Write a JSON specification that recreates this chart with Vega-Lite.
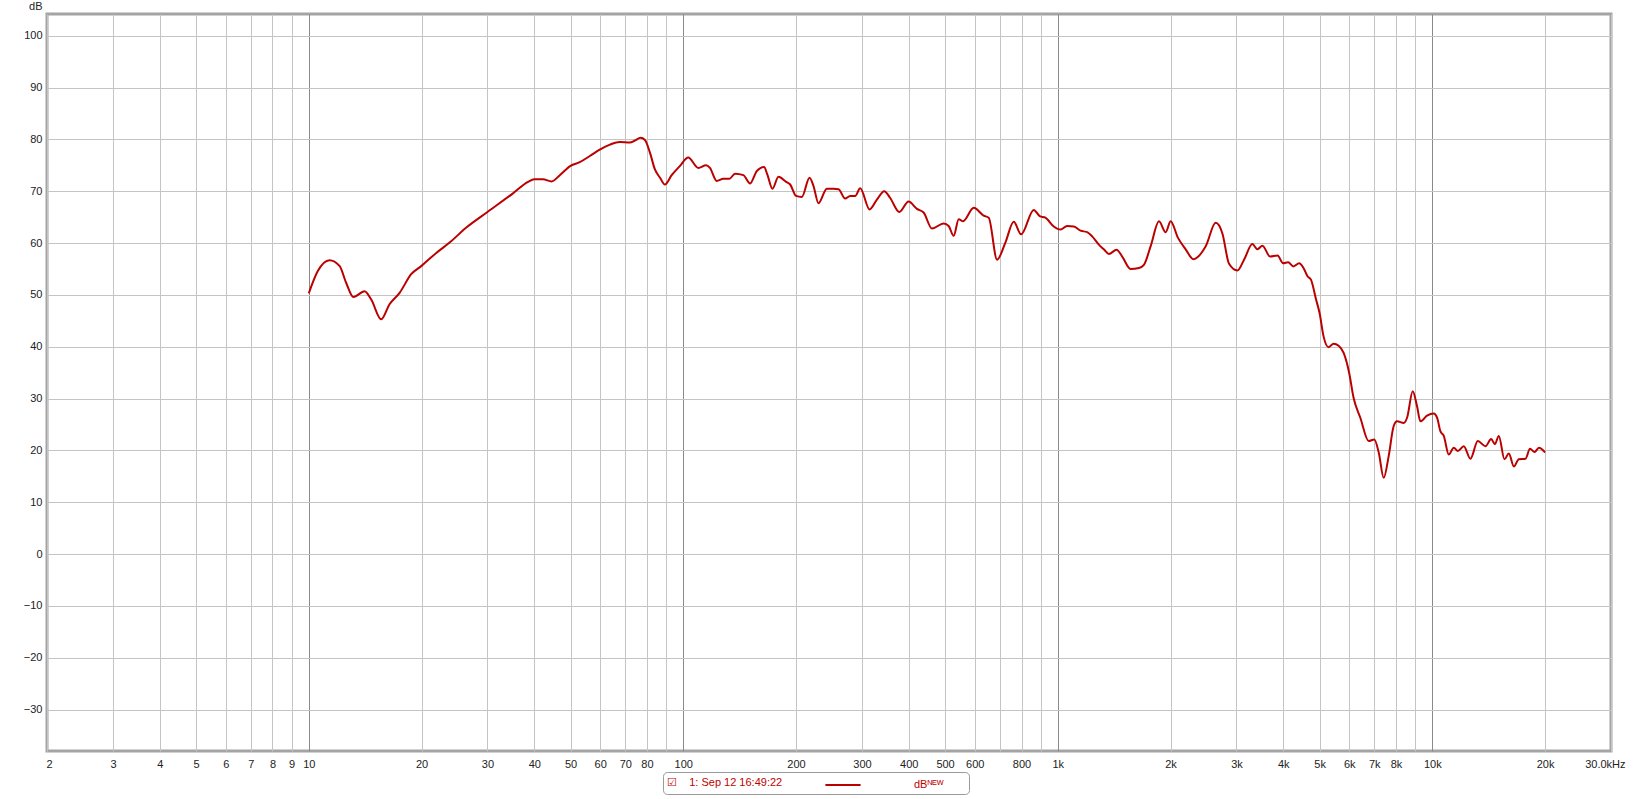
{
  "$schema": "https://vega.github.io/schema/vega-lite/v6.json",
  "width": 1564,
  "height": 737,
  "autosize": {"type": "none"},
  "padding": {"left": 47, "top": 14, "right": 22, "bottom": 48},
  "background": "white",
  "config": {
    "font": "Liberation Sans",
    "view": {"stroke": "#a4a4a4", "strokeWidth": 3},
    "axis": {"labelFont": "Liberation Sans", "labelFontSize": 11, "labelColor": "#222222", "titleFont": "Liberation Sans"}
  },
  "data": {
    "values": [
      {"f": 10, "db": 50.3}, {"f": 10.57, "db": 54.6}, {"f": 11.36, "db": 56.7}, {"f": 12.08, "db": 55.6},
      {"f": 12.59, "db": 52.3}, {"f": 13.16, "db": 49.6}, {"f": 14.09, "db": 50.7}, {"f": 14.68, "db": 49.1},
      {"f": 15.61, "db": 45.3}, {"f": 16.43, "db": 48.2}, {"f": 17.48, "db": 50.4}, {"f": 18.77, "db": 54.0},
      {"f": 20, "db": 55.6}, {"f": 21.9, "db": 58.1}, {"f": 23.77, "db": 60.1}, {"f": 26.35, "db": 63.0},
      {"f": 30, "db": 66.0}, {"f": 35.1, "db": 69.6}, {"f": 38.5, "db": 71.8}, {"f": 40, "db": 72.3},
      {"f": 42.2, "db": 72.3}, {"f": 44.5, "db": 71.9}, {"f": 46.8, "db": 73.1}, {"f": 50, "db": 74.9},
      {"f": 52.9, "db": 75.6}, {"f": 56.3, "db": 76.8}, {"f": 60, "db": 78.1}, {"f": 63.7, "db": 79.0},
      {"f": 67.7, "db": 79.5}, {"f": 72.0, "db": 79.4}, {"f": 74.3, "db": 79.8}, {"f": 76.9, "db": 80.3},
      {"f": 79.0, "db": 79.9}, {"f": 81.5, "db": 77.4}, {"f": 84.0, "db": 74.2}, {"f": 86.7, "db": 72.6},
      {"f": 89.3, "db": 71.3}, {"f": 93.1, "db": 73.1}, {"f": 98.0, "db": 74.9}, {"f": 103.1, "db": 76.5},
      {"f": 109.7, "db": 74.5}, {"f": 115, "db": 75.0}, {"f": 117.8, "db": 74.5}, {"f": 122.8, "db": 72.0},
      {"f": 127.9, "db": 72.4}, {"f": 132.7, "db": 72.4}, {"f": 137.5, "db": 73.4}, {"f": 144.7, "db": 73.1},
      {"f": 150.8, "db": 71.5}, {"f": 157.1, "db": 73.9}, {"f": 164.3, "db": 74.7}, {"f": 167.7, "db": 73.2},
      {"f": 173, "db": 70.5}, {"f": 179.5, "db": 72.8}, {"f": 188.2, "db": 71.8}, {"f": 192.9, "db": 71.3},
      {"f": 200, "db": 69.1}, {"f": 207.3, "db": 68.9}, {"f": 217.3, "db": 72.6}, {"f": 222.7, "db": 71.0},
      {"f": 229.6, "db": 67.7}, {"f": 241.7, "db": 70.5}, {"f": 251.8, "db": 70.5}, {"f": 259.7, "db": 70.4},
      {"f": 270.5, "db": 68.6}, {"f": 279, "db": 69.1}, {"f": 287.7, "db": 69.1}, {"f": 296.8, "db": 70.6},
      {"f": 314.3, "db": 66.5}, {"f": 328.8, "db": 68.4}, {"f": 344, "db": 70.0}, {"f": 356.9, "db": 68.7},
      {"f": 377.3, "db": 66.0}, {"f": 399.5, "db": 68.0}, {"f": 420.7, "db": 66.6}, {"f": 438.3, "db": 65.9},
      {"f": 461.3, "db": 62.8}, {"f": 495.7, "db": 63.8}, {"f": 511.2, "db": 63.3}, {"f": 527.2, "db": 61.4},
      {"f": 543.8, "db": 64.6}, {"f": 558.4, "db": 64.2}, {"f": 596.4, "db": 66.8}, {"f": 634, "db": 65.3},
      {"f": 654, "db": 64.9}, {"f": 688.4, "db": 56.8}, {"f": 724.5, "db": 60.1}, {"f": 762.7, "db": 64.1},
      {"f": 798, "db": 61.7}, {"f": 862.6, "db": 66.4}, {"f": 895, "db": 65.2}, {"f": 926.8, "db": 64.9},
      {"f": 975.6, "db": 63.2}, {"f": 1016.5, "db": 62.6}, {"f": 1059, "db": 63.3}, {"f": 1103.7, "db": 63.2},
      {"f": 1150, "db": 62.4}, {"f": 1198, "db": 62.1}, {"f": 1235, "db": 61.3}, {"f": 1287, "db": 59.7},
      {"f": 1327, "db": 58.8}, {"f": 1369, "db": 57.9}, {"f": 1435, "db": 58.7}, {"f": 1486, "db": 57.4},
      {"f": 1564, "db": 55.0}, {"f": 1647, "db": 55.2}, {"f": 1698, "db": 55.8}, {"f": 1770, "db": 59.4},
      {"f": 1863, "db": 64.2}, {"f": 1941, "db": 62.1}, {"f": 2001, "db": 64.2}, {"f": 2094, "db": 61.0},
      {"f": 2195, "db": 58.8}, {"f": 2301, "db": 56.9}, {"f": 2483, "db": 59.4}, {"f": 2640, "db": 63.9},
      {"f": 2750, "db": 61.9}, {"f": 2866, "db": 56.0}, {"f": 3017, "db": 54.7}, {"f": 3143, "db": 56.8},
      {"f": 3308, "db": 59.8}, {"f": 3412, "db": 58.8}, {"f": 3519, "db": 59.5}, {"f": 3689, "db": 57.4},
      {"f": 3860, "db": 57.6}, {"f": 3996, "db": 56.1}, {"f": 4121, "db": 56.3}, {"f": 4258, "db": 55.5},
      {"f": 4410, "db": 56.1}, {"f": 4529, "db": 55.2}, {"f": 4642, "db": 53.6}, {"f": 4738, "db": 53.0},
      {"f": 4898, "db": 49.0}, {"f": 5000, "db": 46.5}, {"f": 5124, "db": 42.0}, {"f": 5285, "db": 39.9},
      {"f": 5450, "db": 40.6}, {"f": 5622, "db": 40.2}, {"f": 5798, "db": 38.8}, {"f": 6000, "db": 34.9},
      {"f": 6165, "db": 30.1}, {"f": 6424, "db": 26.3}, {"f": 6762, "db": 21.8}, {"f": 7000, "db": 22.1},
      {"f": 7193, "db": 19.6}, {"f": 7418, "db": 14.7}, {"f": 7647, "db": 18.9}, {"f": 7887, "db": 24.7},
      {"f": 8051, "db": 25.6}, {"f": 8388, "db": 25.3}, {"f": 8562, "db": 26.3}, {"f": 8866, "db": 31.4},
      {"f": 9105, "db": 28.5}, {"f": 9293, "db": 25.6}, {"f": 9683, "db": 26.7}, {"f": 10090, "db": 27.1},
      {"f": 10297, "db": 26.3}, {"f": 10510, "db": 23.7}, {"f": 10730, "db": 22.8}, {"f": 11065, "db": 19.2},
      {"f": 11413, "db": 20.5}, {"f": 11700, "db": 19.9}, {"f": 12135, "db": 20.8}, {"f": 12643, "db": 18.4},
      {"f": 13226, "db": 21.8}, {"f": 13869, "db": 20.8}, {"f": 14362, "db": 22.2}, {"f": 14690, "db": 21.2},
      {"f": 15051, "db": 22.8}, {"f": 15585, "db": 18.3}, {"f": 16007, "db": 19.4}, {"f": 16510, "db": 16.9},
      {"f": 17020, "db": 18.3}, {"f": 17740, "db": 18.4}, {"f": 18230, "db": 20.3}, {"f": 18750, "db": 19.7},
      {"f": 19260, "db": 20.5}, {"f": 20000, "db": 19.6}
    ]
  },
  "transform": [{"calculate": "'1: Sep 12 16:49:22'", "as": "series"}],
  "mark": {"type": "line", "interpolate": "monotone", "strokeWidth": 2, "clip": true},
  "encoding": {
    "x": {
      "field": "f", "type": "quantitative",
      "scale": {"type": "log", "domain": [2, 30000], "nice": false, "zero": false},
      "axis": {
        "title": null,
        "values": [2,3,4,5,6,7,8,9,10,20,30,40,50,60,70,80,90,100,200,300,400,500,600,700,800,900,1000,2000,3000,4000,5000,6000,7000,8000,9000,10000,20000,30000],
        "labelExpr": "round(datum.value) == 30000 ? '30.0kHz' : (round(datum.value) == 90 || round(datum.value) == 700 || round(datum.value) == 900 || round(datum.value) == 9000) ? '' : round(datum.value) >= 1000 ? (round(datum.value) / 1000) + 'k' : round(datum.value) + ''",
        "labelOverlap": false,
        "labelFlush": true,
        "labelPadding": 7,
        "labelOffset": {"condition": [{"test": "round(datum.value) == 30000", "value": 14}, {"test": "round(datum.value) == 2", "value": -1}], "value": 0},
        "ticks": false,
        "domain": false,
        "grid": true,
        "gridColor": {"condition": {"test": "round(datum.value) == 10 || round(datum.value) == 100 || round(datum.value) == 1000 || round(datum.value) == 10000", "value": "#8a8a8a"}, "value": "#c4c4c4"},
        "gridWidth": 1
      }
    },
    "y": {
      "field": "db", "type": "quantitative",
      "scale": {"domain": [-38, 104.2], "nice": false, "zero": false},
      "axis": {
        "title": "dB",
        "titleAngle": 0,
        "titleAlign": "right",
        "titleBaseline": "middle",
        "titleX": -5,
        "titleY": -8,
        "titleFontWeight": "normal",
        "titleFontSize": 11,
        "titleColor": "#222222",
        "values": [-30,-20,-10,0,10,20,30,40,50,60,70,80,90,100],
        "labelPadding": 5,
        "ticks": false,
        "domain": false,
        "grid": true,
        "gridColor": "#c4c4c4",
        "gridWidth": 1
      }
    },
    "color": {
      "field": "series", "type": "nominal",
      "scale": {"range": ["#bb0000"]},
      "legend": {
        "orient": "none",
        "legendX": 616,
        "legendY": 758,
        "title": "☑\u00a0\u00a0\u00a0\u00a01: Sep 12 16:49:22",
        "titleOrient": "left",
        "titleAnchor": "middle",
        "titleFontSize": 11,
        "titleFontWeight": "normal",
        "titleColor": "#c00000",
        "titleFont": "Liberation Sans",
        "titlePadding": 51,
        "labelExpr": "'dBᴺᴱᵂ\u00a0\u00a0\u00a0\u00a0\u00a0\u00a0\u00a0\u200b'",
        "labelColor": "#c00000",
        "labelFontSize": 11,
        "labelFont": "Liberation Sans",
        "labelOffset": 62,
        "symbolType": "M-2.2,0H2.2",
        "symbolSize": 256,
        "symbolStrokeWidth": 2,
        "padding": 4,
        "fillColor": "white",
        "strokeColor": "#9a9a9a",
        "cornerRadius": 4
      }
    }
  }
}
